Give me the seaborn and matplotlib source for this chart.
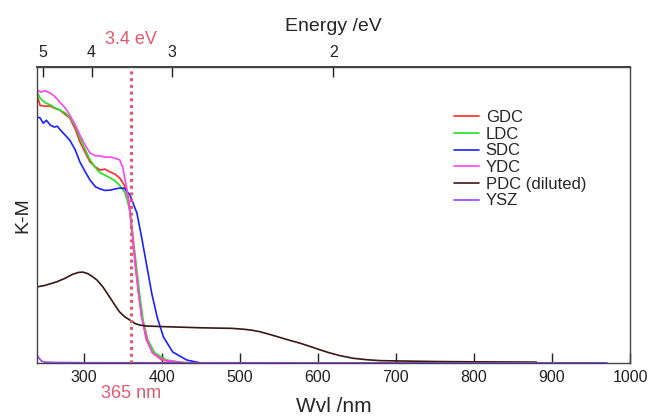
import numpy as np
import pandas as pd
import matplotlib
matplotlib.use("Agg")
import matplotlib.pyplot as plt
import seaborn as sns

# ---- data ----
gdc_nm = [240, 244, 250, 257, 263, 269, 276, 282, 289, 295, 302, 308, 315, 321, 327, 334, 340, 346, 352, 357, 362, 366, 370, 374, 380, 388, 400, 420, 450, 880]
gdc_km = [0.905, 0.87, 0.868, 0.868, 0.86, 0.855, 0.84, 0.828, 0.79, 0.747, 0.71, 0.679, 0.662, 0.652, 0.655, 0.645, 0.638, 0.625, 0.60, 0.56, 0.44, 0.33, 0.24, 0.16, 0.08, 0.035, 0.01, 0.002, 0.0, 0.0]

ldc_nm = [240, 244, 250, 257, 263, 269, 276, 282, 289, 295, 302, 308, 315, 321, 327, 334, 340, 346, 353, 359, 363, 368, 372, 376, 382, 391, 406, 430, 970]
ldc_km = [0.916, 0.895, 0.88, 0.872, 0.862, 0.855, 0.845, 0.831, 0.80, 0.76, 0.72, 0.686, 0.66, 0.642, 0.635, 0.625, 0.615, 0.60, 0.574, 0.517, 0.426, 0.314, 0.223, 0.145, 0.078, 0.034, 0.01, 0.0, 0.0]

sdc_nm = [240, 244, 248, 252, 257, 262, 266, 269, 276, 282, 289, 295, 302, 308, 315, 321, 327, 334, 340, 346, 352, 359, 368, 374, 381, 387, 394, 402, 414, 432, 450, 970]
sdc_km = [0.831, 0.828, 0.81, 0.82, 0.804, 0.797, 0.80, 0.79, 0.77, 0.753, 0.72, 0.679, 0.645, 0.618, 0.595, 0.588, 0.583, 0.584, 0.588, 0.591, 0.59, 0.568, 0.507, 0.426, 0.324, 0.236, 0.155, 0.088, 0.037, 0.01, 0.0, 0.0]

ydc_nm = [240, 245, 250, 257, 263, 269, 276, 282, 289, 295, 302, 308, 315, 321, 327, 334, 340, 346, 350, 355, 362, 366, 370, 374, 381, 388, 402, 430, 500]
ydc_km = [0.922, 0.915, 0.92, 0.912, 0.90, 0.882, 0.862, 0.838, 0.805, 0.77, 0.735, 0.709, 0.70, 0.70, 0.695, 0.696, 0.692, 0.686, 0.66, 0.59, 0.449, 0.338, 0.236, 0.155, 0.078, 0.034, 0.01, 0.0, 0.0]

pdc_nm = [240, 250, 265, 275, 286, 293, 299, 305, 311, 317, 325, 333, 340, 346, 352, 359, 366, 372, 380, 400, 425, 449, 470, 490, 505, 515, 525, 535, 548, 562, 577, 590, 601, 614, 628, 645, 663, 680, 701, 750, 800, 880]
pdc_km = [0.257, 0.262, 0.274, 0.285, 0.300, 0.306, 0.307, 0.302, 0.292, 0.28, 0.255, 0.223, 0.195, 0.172, 0.157, 0.145, 0.133, 0.128, 0.125, 0.123, 0.121, 0.119, 0.118, 0.117, 0.114, 0.111, 0.106, 0.099, 0.089, 0.078, 0.067, 0.056, 0.046, 0.035, 0.025, 0.016, 0.011, 0.008, 0.007, 0.005, 0.004, 0.003]

ysz_nm = [240, 243, 246, 250, 260, 300, 970]
ysz_km = [0.027, 0.015, 0.006, 0.003, 0.002, 0.001, 0.0]

series_names = ["GDC", "LDC", "SDC", "YDC", "PDC (diluted)", "YSZ"]
series_colors = ["#ff2a2a", "#22e022", "#1a22ff", "#ff44ee", "#3a1812", "#9a40ff"]
energy_ticks = [5, 4, 3, 2]
wvl_ticks = [300, 400, 500, 600, 700, 800, 900, 1000]
marker_nm = 360
marker_color = "#e05a6e"

frames = []
for name, xs, ys in zip(series_names,
                        [gdc_nm, ldc_nm, sdc_nm, ydc_nm, pdc_nm, ysz_nm],
                        [gdc_km, ldc_km, sdc_km, ydc_km, pdc_km, ysz_km]):
    frames.append(pd.DataFrame({"Wvl": xs, "KM": ys, "sample": name}))
df = pd.concat(frames, ignore_index=True)

sns.set_theme(style="white")
plt.rcParams["font.family"] = ["Liberation Sans", "DejaVu Sans"]

fig = plt.figure(figsize=(6.51, 4.16), dpi=100)
ax = fig.add_axes([37/651, (416-363)/416, (630-37)/651, (363-67)/416])

sns.lineplot(data=df, x="Wvl", y="KM", hue="sample", hue_order=series_names,
             palette=dict(zip(series_names, series_colors)), estimator=None,
             sort=True, linewidth=1.2, ax=ax, legend=True)

ax.axvline(marker_nm, color=marker_color, linestyle=(0, (1, 1.2)), linewidth=2.2, zorder=5)

ax.set_xlim(240, 1000)
ax.set_ylim(0, 1)
ax.set_yticks([])
ax.set_xticks(wvl_ticks)
ax.tick_params(axis="x", direction="in", length=7, width=1, colors="#222222",
               labelsize=11.5, pad=5, bottom=True)
ax.set_xlabel("Wvl /nm", fontsize=15, labelpad=9)
ax.set_ylabel("K-M", fontsize=14, labelpad=4)
for s in ax.spines.values():
    s.set_color("#444444")
    s.set_linewidth(1.0)

sec = ax.secondary_xaxis("top", functions=(lambda x: 1239.84/np.asarray(x, dtype=float),
                                           lambda e: 1239.84/np.asarray(e, dtype=float)))
sec.set_xticks(energy_ticks)
sec.tick_params(axis="x", direction="in", length=7, width=1, colors="#222222",
                labelsize=11.5, pad=5)
sec.set_xlabel("Energy /eV", fontsize=14, labelpad=10)

xtrans = ax.get_xaxis_transform()
ax.text(marker_nm, (363-40)/296, "3.4 eV", transform=xtrans, color=marker_color,
        fontsize=13, ha="center", va="center", clip_on=False)
ax.text(marker_nm, -(393-363)/296, "365 nm", transform=xtrans, color=marker_color,
        fontsize=13, ha="center", va="center", clip_on=False)

handles, labels = ax.get_legend_handles_labels()
ax.legend(handles=handles, labels=labels, loc="upper left", bbox_to_anchor=(0.6915, 0.877),
          frameon=False, fontsize=12, handlelength=1.5, handletextpad=0.42,
          labelspacing=0.1, borderaxespad=0)

fig.savefig("out.png", dpi=100)
